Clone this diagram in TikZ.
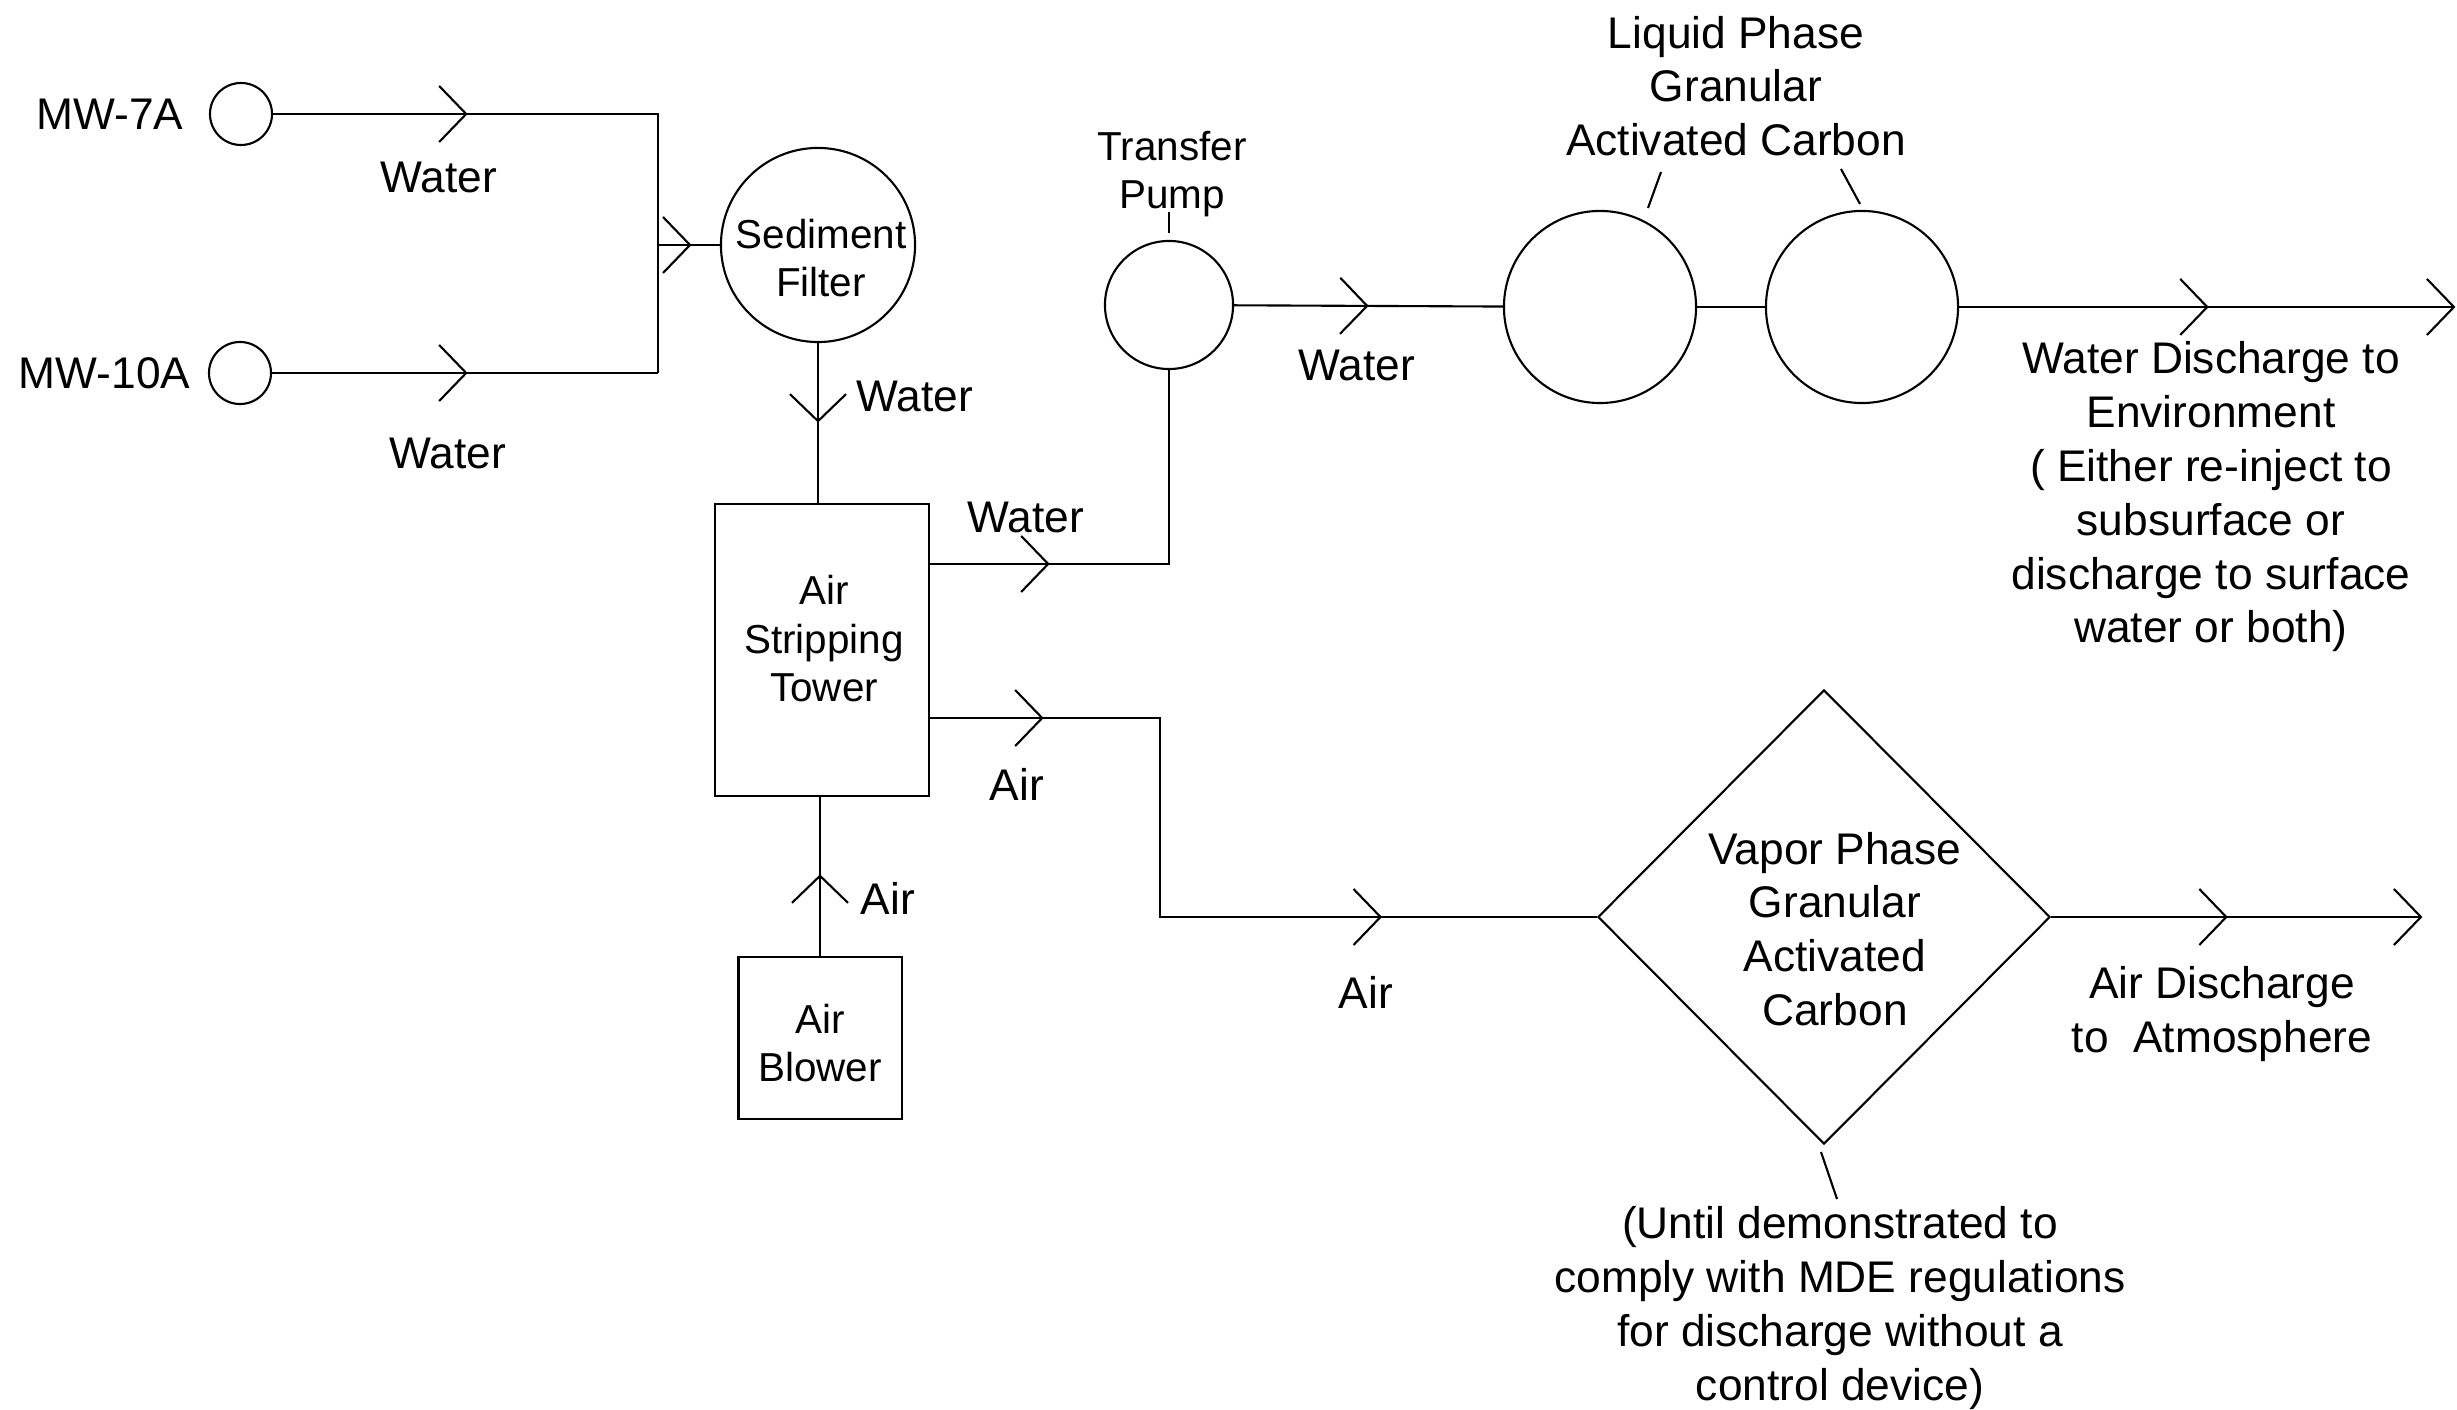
\documentclass[tikz,border=0pt]{standalone}
\usepackage{fontspec}
\setmainfont{Liberation Sans}
\usetikzlibrary{shapes.geometric,decorations.markings,calc}
\newcommand\mychev{\draw[line width=0.6pt] (-0.27cm,0.28cm) -- (0,0) -- (-0.27cm,-0.28cm);}
\tikzset{
  ln/.style={line width=0.6pt},
  big/.style={font=\fontsize{12.6}{15.3}\selectfont, align=center, inner sep=0pt},
  small/.style={font=\fontsize{11.5}{13.8}\selectfont, align=center, inner sep=0pt},
  well/.style={circle, draw, line width=0.6pt, minimum size=0.62cm, inner sep=0pt},
  vessel/.style={circle, draw, line width=0.6pt, inner sep=0pt},
  unit/.style={rectangle, draw, line width=0.6pt, inner sep=0pt},
  chev/.style={postaction={decorate, decoration={markings, mark=at position #1 with {\mychev}}}},
}
\begin{document}
\begin{tikzpicture}[x=0.01cm, y=-0.01cm]
\useasboundingbox (0,0) rectangle (2457,1410);
% wells
\node[well] (mw7) at (241,114) {};
\node[well] (mw10) at (240,373) {};
\node[big, anchor=east] (l7) at (184,114) {MW-7A};
\node[big, anchor=east] (l10) at (191,373) {MW-10A};
\coordinate (j7) at (658,114);
\coordinate (j10) at (658,373);
\coordinate (jm) at (658,245);
% equipment
\node[vessel, minimum size=1.94cm] (sed) at (818,245) {};
\node[small] (sedlbl) at (821,258) {Sediment\\Filter};
\node[unit, minimum width=2.14cm, minimum height=2.91cm] (tower) at (822,650) {};
\node[small] (towerlbl) at (824,639) {Air\\Stripping\\Tower};
\node[unit, minimum width=1.63cm, minimum height=1.62cm] (blower) at (820,1038) {};
\node[small] (blowerlbl) at (820,1043) {Air\\Blower};
\node[vessel, minimum size=1.28cm] (pump) at (1169,305) {};
\node[small] (pumplbl) at (1172,174) {Transfer\\Pump};
\node[vessel, minimum size=1.92cm] (g1) at (1600,307) {};
\node[vessel, minimum size=1.92cm] (g2) at (1862,307) {};
\node[big] (lgac) at (1736,86) {Liquid Phase\\Granular\\Activated Carbon};
\coordinate (wend) at (2454,307);
\node[big] (wdis) at (2211,497) {Water Discharge to\\Environment\\( Either re-inject to\\subsurface or\\discharge to surface\\water or both)};
\node[diamond, draw, line width=0.6pt, minimum width=4.52cm, minimum height=4.54cm, inner sep=0pt] (vgac) at (1824,917) {};
\node[big] (vgaclbl) at (1835,929) {Vapor Phase\\Granular\\Activated\\Carbon};
\coordinate (abend) at (1160,917);
\coordinate (aend) at (2421,917);
\node[big] (adis) at (2222,1014) {Air Discharge\\to\ \ Atmosphere};
\node[big] (note) at (1840,1308) {(Until demonstrated to\\comply with MDE regulations\\for discharge without a\\control device)};
% flow labels
\node[big] (w1) at (439,177) {Water};
\node[big] (w2) at (448,453) {Water};
\node[big] (w3) at (915,396) {Water};
\node[big] (w4) at (1026,517) {Water};
\node[big] (w5) at (1357,365) {Water};
\node[big] (a1) at (1017,784) {Air};
\node[big] (a2) at (1366,992) {Air};
\node[big] (a3) at (888,898) {Air};
% connectors
\draw[ln, chev=1.93cm] (mw7) -- (j7) -- (j10);
\draw[ln, chev=1.94cm] (mw10) -- (j10);
\draw[ln, chev=0.32cm] (jm) -- (sed);
\draw[ln, chev=0.78cm] (sed) -- (sed.south |- tower.north);
\draw[ln, chev=0.80cm] (blower) -- (blower.north |- tower.south);
\draw[ln, chev=1.18cm] ([yshift=0.86cm]tower.east) -| (pump);
\draw[ln, chev=1.12cm, chev=6.49cm] ([yshift=-0.68cm]tower.east) -| (abend) -- (vgac.west);
\draw[ln, chev=1.33cm] (pump) -- (g1);
\draw[ln] (g1) -- (g2);
\draw[ln, chev=2.48cm, chev=0.9999] (g2) -- (wend);
\draw[ln, chev=1.75cm, chev=0.9999] (vgac.east) -- (aend);
% leaders
\coordinate (pt1) at (1169,212); \coordinate (pt2) at (1169,233);
\draw[ln] (pt1) -- (pt2);
\coordinate (lg1a) at (1661,172); \coordinate (lg1b) at (1648,208);
\draw[ln] (lg1a) -- (lg1b);
\coordinate (lg2a) at (1841,169); \coordinate (lg2b) at (1860,204);
\draw[ln] (lg2a) -- (lg2b);
\coordinate (vla) at (1821,1152); \coordinate (vlb) at (1837,1199);
\draw[ln] (vla) -- (vlb);
\end{tikzpicture}
\end{document}
